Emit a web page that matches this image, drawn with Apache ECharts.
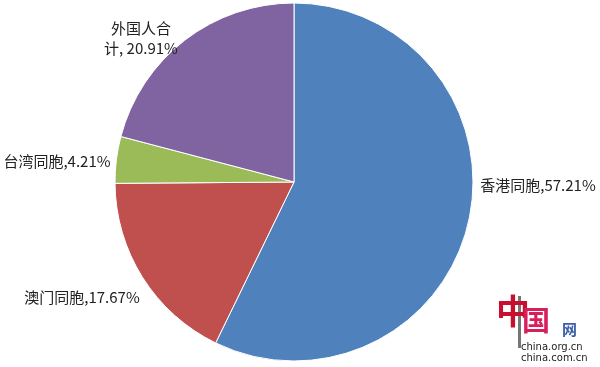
<!DOCTYPE html>
<html><head><meta charset="utf-8">
<script src="https://cdn.jsdelivr.net/npm/echarts@6/dist/echarts.min.js"></script>
<style>html,body{margin:0;padding:0;background:#fff}#c{width:600px;height:367px}</style>
</head><body><div id="c"></div>
<script>
const categories = ['香港同胞', '澳门同胞', '台湾同胞', '外国人合计'];
const values = [57.21, 17.67, 4.21, 20.91];
const labelText = ['香港同胞,57.21%', '澳门同胞,17.67%', '台湾同胞,4.21%', '外国人合\n计, 20.91%'];
const colors = ['#4F81BD', '#C0504D', '#9BBB59', '#8064A2'];
const labelPos = [[538, 185], [82, 297], [57, 161], [141, 38]];

const chart = echarts.init(document.getElementById('c'));
chart.setOption({
  animation: false,
  series: [{
    type: 'pie',
    center: [294, 182],
    radius: [0, 179],
    startAngle: 90,
    clockwise: true,
    color: colors,
    itemStyle: { borderColor: '#fff', borderWidth: 1 },
    label: {
      show: true, position: 'outside', overflow: 'none', width: 200,
      formatter: p => labelText[p.dataIndex],
      fontFamily: 'Noto Sans CJK SC', fontSize: 15, color: '#222', lineHeight: 20
    },
    labelLine: { show: false },
    labelLayout: p => ({ x: labelPos[p.dataIndex][0], y: labelPos[p.dataIndex][1], align: 'center', verticalAlign: 'middle' }),
    data: categories.map((c, i) => ({ name: c, value: values[i] }))
  }],
  graphic: [
    { type: 'rect', left: 518, top: 296, shape: { width: 3, height: 52 }, style: { fill: '#777' } },
    { type: 'text', left: 496, top: 294, style: { text: '中', fill: '#c8102e', font: 'bold 34px "Noto Sans CJK SC"' } },
    { type: 'text', left: 522, top: 306, style: { text: '国', fill: '#d81e5b', font: 'bold 28px "Noto Sans CJK SC"' } },
    { type: 'text', left: 562, top: 322, style: { text: '网', fill: '#3a5fa8', font: 'bold 15px "Noto Sans CJK SC"' } },
    { type: 'text', left: 521, top: 342, style: { text: 'china.org.cn', fill: '#222', font: '10px "DejaVu Sans"' } },
    { type: 'text', left: 521, top: 353, style: { text: 'china.com.cn', fill: '#222', font: '10px "DejaVu Sans"' } }
  ]
});
</script></body></html>
